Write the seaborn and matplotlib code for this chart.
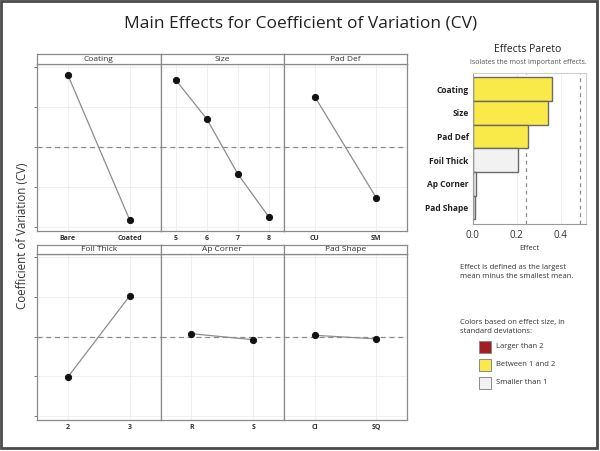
import matplotlib
matplotlib.use('Agg')
import matplotlib.pyplot as plt
import seaborn as sns
import pandas as pd
from matplotlib.patches import Rectangle

# main effects data
coating_levels = ['Bare', 'Coated']
coating_cv = [0.580, 0.218]
size_levels = ['5', '6', '7', '8']
size_cv = [0.567, 0.470, 0.333, 0.226]
paddef_levels = ['CU', 'SM']
paddef_cv = [0.526, 0.273]
foil_levels = ['2', '3']
foil_cv = [0.298, 0.502]
apcorner_levels = ['R', 'S']
apcorner_cv = [0.407, 0.392]
padshape_levels = ['CI', 'SQ']
padshape_cv = [0.403, 0.394]
grand_mean = 0.40

# pareto
pareto_names = ['Coating', 'Size', 'Pad Def', 'Foil Thick', 'Ap Corner', 'Pad Shape']
pareto_effects = [0.362, 0.341, 0.253, 0.204, 0.015, 0.009]
sd1 = 0.242
sd2 = 0.488

RED = '#A41E22'
YELLOW = '#F9EA4A'
GRAY = '#F2F2F2'

sns.set_style('white')
plt.rcParams['font.family'] = ['Open Sans', 'DejaVu Sans']

W, H = 600, 451
fig = plt.figure(figsize=(W / 100, H / 100), dpi=100)


def box(x0, y0, x1, y1):
    # pixel box (top-left origin) -> figure fraction
    return [x0 / W, 1 - y1 / H, (x1 - x0) / W, (y1 - y0) / H]


panels = [
    ('Coating', coating_levels, coating_cv),
    ('Size', size_levels, size_cv),
    ('Pad Def', paddef_levels, paddef_cv),
    ('Foil Thick', foil_levels, foil_cv),
    ('Ap Corner', apcorner_levels, apcorner_cv),
    ('Pad Shape', padshape_levels, padshape_cv),
]

col_x = [37, 160.5, 284, 407]
rows = [(54, 64, 231), (245, 254, 420)]
edge = '#8a8a8a'

for i, (name, levels, cv) in enumerate(panels):
    r, c = divmod(i, 3)
    htop, atop, abot = rows[r]
    x0, x1 = col_x[c], col_x[c + 1]

    ax = fig.add_axes(box(x0, atop, x1, abot))
    df = pd.DataFrame({'level': levels, 'cv': cv})
    sns.pointplot(data=df, x='level', y='cv', order=levels, color='#1a1a1a',
                  markers='o', markersize=4.5, linewidth=0.9, errorbar=None, ax=ax)
    for ln in ax.lines:
        ln.set_color('#8c8c8c')
        ln.set_markerfacecolor('#111111')
        ln.set_markeredgecolor('#111111')
    ax.axhline(grand_mean, color='#8c8c8c', ls=(0, (4, 3)), lw=0.9, zorder=1)
    ax.set_ylim(0.19, 0.6075)
    ax.set_xlim(-0.5, len(levels) - 0.5)
    ax.set_yticks([0.2, 0.3, 0.4, 0.5, 0.6])
    ax.set_yticklabels([])
    ax.grid(True, color='#ececec', lw=0.6)
    ax.set_axisbelow(True)
    ax.set_xlabel('')
    ax.set_ylabel('')
    ax.tick_params(axis='x', labelsize=5, length=0, pad=3, labelcolor='#333333')
    for t in ax.get_xticklabels():
        t.set_fontweight('bold')
    if c == 0:
        ax.tick_params(axis='y', left=True, length=2, width=0.6, color='#666666')
    else:
        ax.tick_params(axis='y', left=False)
    for s in ax.spines.values():
        s.set_color(edge)
        s.set_linewidth(0.9)

    hax = fig.add_axes(box(x0, htop, x1, atop))
    hax.set_xticks([])
    hax.set_yticks([])
    hax.set_facecolor('white')
    for s in hax.spines.values():
        s.set_color(edge)
        s.set_linewidth(0.9)
    hax.text(0.5, 0.45, name, ha='center', va='center', fontsize=6,
             color='#333333', transform=hax.transAxes)

fig.text(23 / W, 1 - 236 / H, 'Coefficient of Variation (CV)', rotation=90,
         ha='center', va='center', fontsize=8.3, color='#333333')
fig.text(301 / W, 1 - 23 / H, 'Main Effects for Coefficient of Variation (CV)',
         ha='center', va='center', fontsize=12.5, color='#222222')

# pareto chart
pax = fig.add_axes(box(472.7, 72.5, 586, 224))
colors = [RED if e > sd2 else (YELLOW if e >= sd1 else GRAY) for e in pareto_effects]
pdf = pd.DataFrame({'factor': pareto_names, 'effect': pareto_effects})
sns.barplot(data=pdf, x='effect', y='factor', hue='factor', palette=colors,
            order=pareto_names, width=1.0, legend=False, edgecolor='#6a6a6a',
            linewidth=1.0, saturation=1, ax=pax)
pax.set_ylim(5.7, -0.7)
pax.set_xlim(0, 0.515)
pax.set_xticks([0.0, 0.2, 0.4])
pax.set_xticklabels(['0.0', '0.2', '0.4'])
pax.grid(True, axis='x', color='#ececec', lw=0.6)
pax.set_axisbelow(True)
for v in (sd1, sd2):
    pax.axvline(v, color='#8c8c8c', ls=(0, (3, 3)), lw=0.9, zorder=0.5)
pax.set_ylabel('')
pax.set_xlabel('Effect', fontsize=5.5, color='#333333', labelpad=3)
pax.tick_params(axis='y', length=0, labelsize=6, pad=3, labelcolor='#222222')
pax.tick_params(axis='x', length=0, labelsize=7, pad=4, labelcolor='#333333')
for t in pax.get_yticklabels():
    t.set_fontweight('bold')
for s in pax.spines.values():
    s.set_color('#cfcfcf')
    s.set_linewidth(0.8)
pax.spines['left'].set_color('#9a9a9a')
pax.spines['bottom'].set_color('#9a9a9a')

fig.text(528 / W, 1 - 50 / H, 'Effects Pareto', ha='center', va='center',
         fontsize=7.5, color='#222222')
fig.text(528 / W, 1 - 62.5 / H, 'Isolates the most important effects.',
         ha='center', va='center', fontsize=5, color='#555555')

fig.text(460 / W, 1 - 272 / H,
         'Effect is defined as the largest\nmean minus the smallest mean.',
         ha='left', va='center', fontsize=5.5, color='#333333', linespacing=1.5)
fig.text(460 / W, 1 - 327 / H,
         'Colors based on effect size, in\nstandard deviations:',
         ha='left', va='center', fontsize=5.5, color='#333333', linespacing=1.5)

legend_labels = ['Larger than 2', 'Between 1 and 2', 'Smaller than 1']
legend_colors = [RED, YELLOW, GRAY]
for k, (lab, col) in enumerate(zip(legend_labels, legend_colors)):
    yc = 347 + 18 * k
    fig.patches.append(Rectangle((479 / W, 1 - (yc + 6) / H), 12 / W, 12 / H,
                                 transform=fig.transFigure, facecolor=col,
                                 edgecolor='#8a8a8a', linewidth=0.7))
    fig.text(496 / W, 1 - yc / H, lab, ha='left', va='center', fontsize=5.5,
             color='#333333')

# outer frame
fig.patches.append(Rectangle((1 / W, 1 - 448 / H), 596 / W, 447 / H,
                             transform=fig.transFigure, fill=False,
                             edgecolor='#4a4a4a', linewidth=2))

fig.savefig('out.png', dpi=100)
